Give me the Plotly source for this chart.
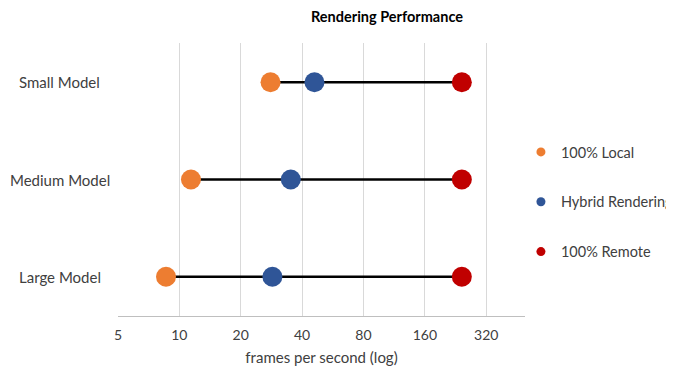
import plotly.graph_objects as go
import math

categories = ["Large Model", "Medium Model", "Small Model"]
local_fps = [8.6, 11.4, 28.0]
hybrid_fps = [28.6, 35.2, 46.0]
remote_fps = [243, 243, 243]
x_ticks = [5, 10, 20, 40, 80, 160, 320]

series = [
    ("100% Local", local_fps, "#ED7D31"),
    ("Hybrid Rendering", hybrid_fps, "#2F5597"),
    ("100% Remote", remote_fps, "#C00000"),
]

font_family = "Lato, Open Sans, sans-serif"
text_color = "#404040"

fig = go.Figure()

# connecting lines
lx, ly = [], []
for c, a, b, r in zip(categories, local_fps, hybrid_fps, remote_fps):
    lo, hi = min(a, b, r), max(a, b, r)
    lx += [lo, hi, None]
    ly += [c, c, None]
fig.add_trace(go.Scatter(x=lx, y=ly, mode="lines", line=dict(color="black", width=2.5),
                         showlegend=False, hoverinfo="skip"))

for i, (name, vals, color) in enumerate(series):
    fig.add_trace(go.Scatter(x=vals, y=categories, mode="markers", name=name,
                             marker=dict(color=color, size=20), showlegend=False))
    fig.add_trace(go.Scatter(x=[None], y=[None], mode="markers", name=name,
                             legendgroup=f"g{i}",
                             marker=dict(color=color, size=9), showlegend=True))

# centered category labels (Excel-style)
for c in categories:
    fig.add_annotation(x=-0.143, xref="paper", y=c, yref="y", text=c,
                       showarrow=False, xanchor="center", yanchor="middle",
                       font=dict(size=15, color=text_color, family=font_family))

fig.update_layout(
    width=674, height=374,
    margin=dict(l=110, r=157, t=35, b=66, autoexpand=False),
    paper_bgcolor="white", plot_bgcolor="white",
    font=dict(family=font_family, size=14, color=text_color),
    title=dict(text="<b>Rendering Performance</b>", x=379 / 674, xanchor="center",
               y=1 - 9 / 374, yanchor="middle",
               font=dict(family=font_family, size=14.5, color="black")),
    xaxis=dict(type="log", range=[math.log10(5), math.log10(496)],
               tickvals=x_ticks, ticktext=[str(t) for t in x_ticks],
               showgrid=True, gridcolor="#D9D9D9", gridwidth=1,
               showline=True, linecolor="#BFBFBF", linewidth=1,
               zeroline=False, ticks="", ticklabelstandoff=6, automargin=False,
               title=dict(text="frames per second (log)", standoff=10,
                          font=dict(size=15, color=text_color)),
               tickfont=dict(size=14, color=text_color)),
    yaxis=dict(type="category", categoryorder="array", categoryarray=categories,
               range=[-0.404, 2.404], showgrid=False, zeroline=False, showline=False,
               ticks="", showticklabels=False, automargin=False),
    legend=dict(x=0.990, xanchor="left", y=0.4176, yanchor="middle",
                font=dict(size=14.5, color=text_color), tracegroupgap=28,
                itemsizing="trace", bgcolor="rgba(0,0,0,0)"),
)

fig.write_html("out.html")
